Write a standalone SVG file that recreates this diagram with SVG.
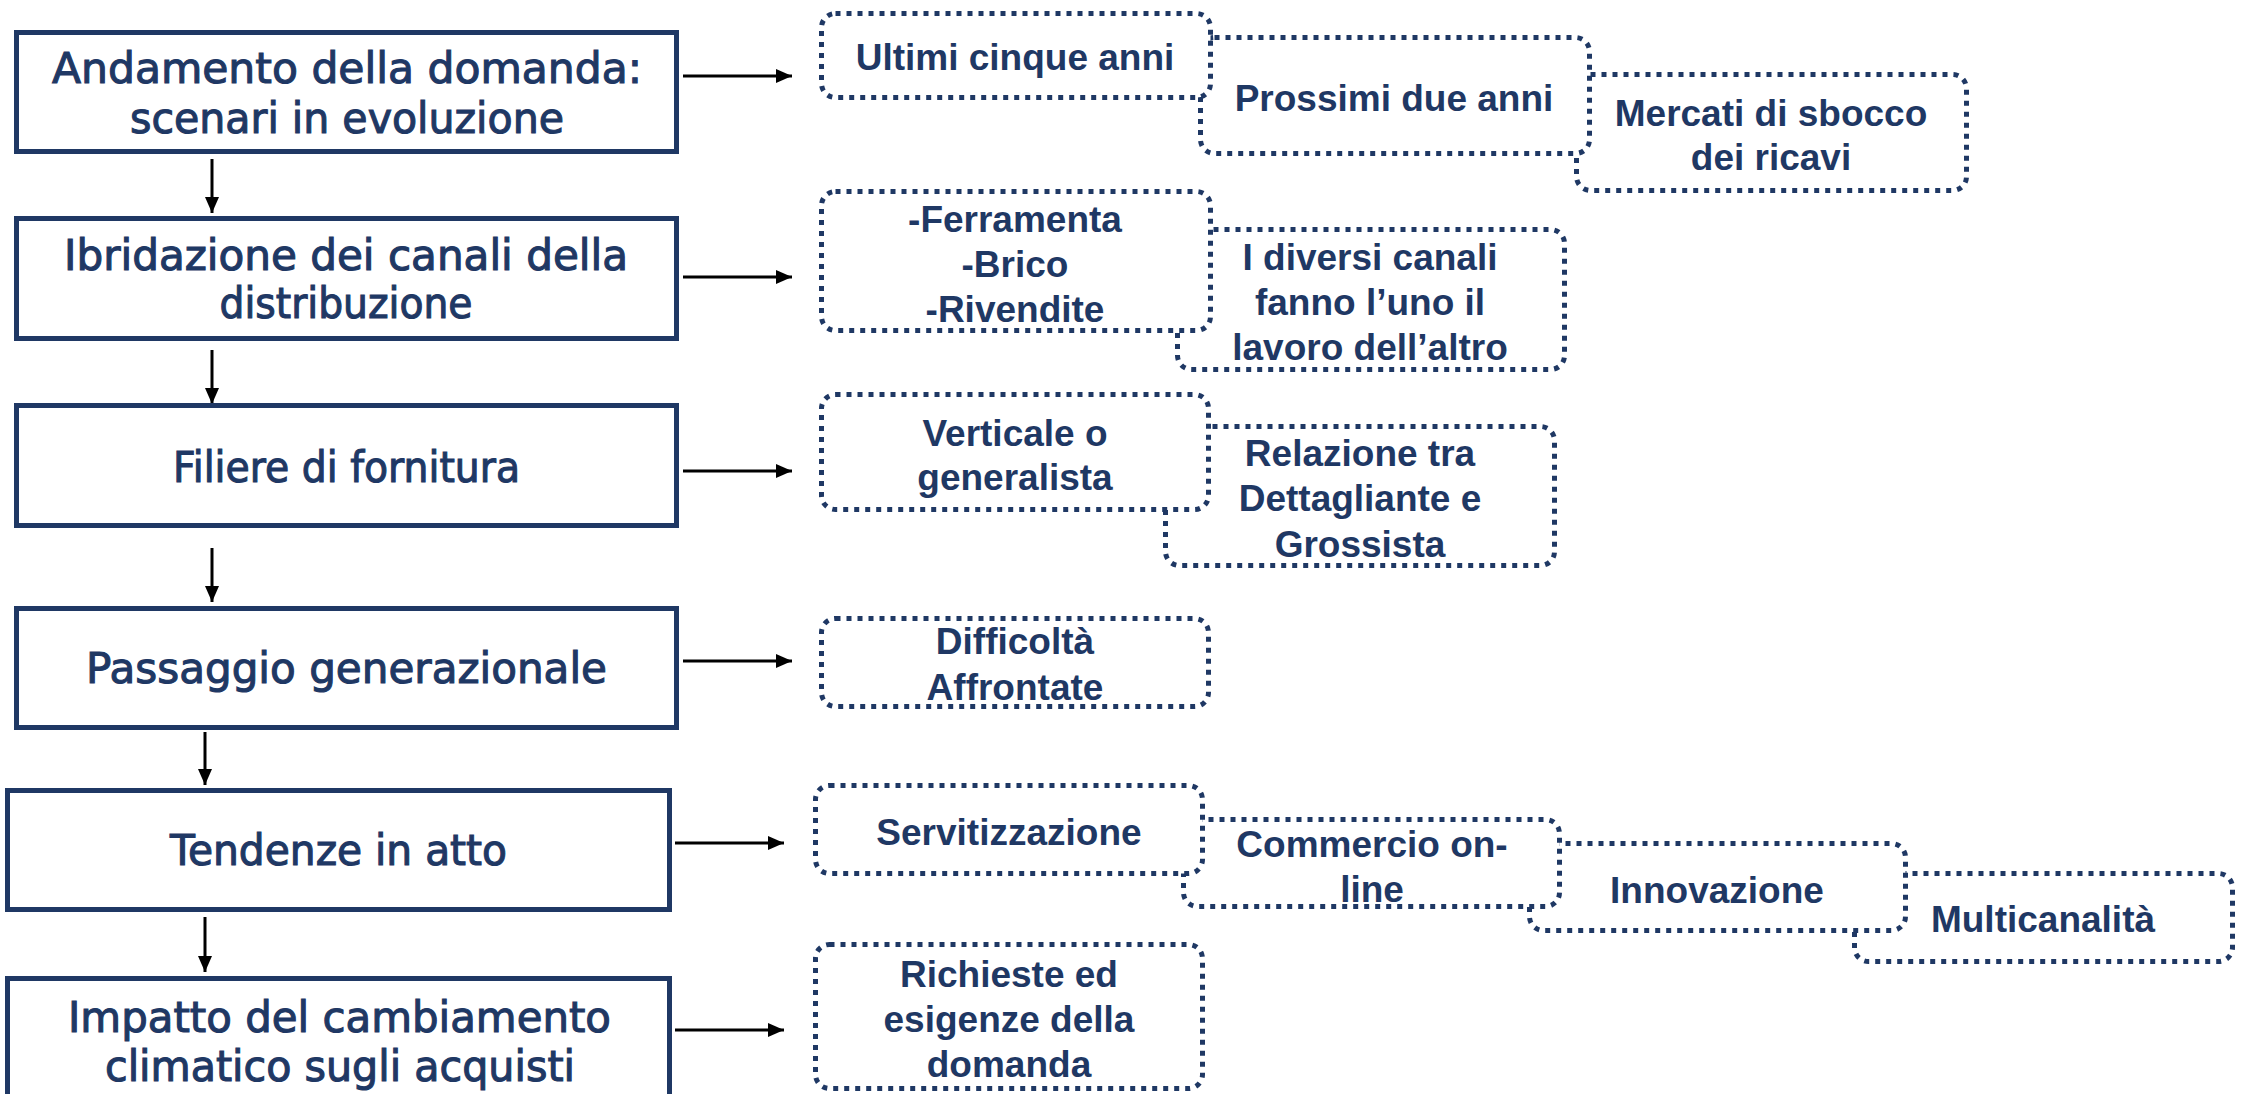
<svg xmlns="http://www.w3.org/2000/svg" width="2244" height="1094" viewBox="0 0 2244 1094">
<defs>
<style>
.main{fill:#fff;stroke:#1F3864;stroke-width:5}
.dot{fill:#fff;stroke:#1F3864;stroke-width:5;stroke-dasharray:5 6}
.lt{font-family:"DejaVu Sans",sans-serif;font-size:42px;fill:#1F3864;stroke:#1F3864;stroke-width:1.1;text-anchor:middle}
.rt{font-family:"Liberation Sans",Arial,sans-serif;font-weight:bold;font-size:37px;fill:#1F3864;text-anchor:middle}
.arr{stroke:#000;stroke-width:3;fill:none;marker-end:url(#ah)}
</style>
<marker id="ah" markerUnits="userSpaceOnUse" markerWidth="16" markerHeight="14" refX="16" refY="7" orient="auto">
<path d="M0,0 L16,7 L0,14 Z" fill="#000"/>
</marker>
</defs>
<rect width="2244" height="1094" fill="#fff"/>

<g id="connectors">
<line class="arr" x1="212" y1="159" x2="212" y2="213"/>
<line class="arr" x1="212" y1="350" x2="212" y2="404"/>
<line class="arr" x1="212" y1="548" x2="212" y2="602"/>
<line class="arr" x1="205" y1="732" x2="205" y2="785"/>
<line class="arr" x1="205" y1="917" x2="205" y2="972"/>
<line class="arr" x1="683" y1="76" x2="792" y2="76"/>
<line class="arr" x1="683" y1="277" x2="792" y2="277"/>
<line class="arr" x1="683" y1="471" x2="792" y2="471"/>
<line class="arr" x1="683" y1="661" x2="792" y2="661"/>
<line class="arr" x1="675" y1="843" x2="784" y2="843"/>
<line class="arr" x1="675" y1="1030" x2="784" y2="1030"/>
</g>

<g id="n1"><rect class="main" x="16.5" y="32.5" width="660" height="119"/>
<text class="lt" x="347" y="83" textLength="590" lengthAdjust="spacingAndGlyphs">Andamento della domanda:</text>
<text class="lt" x="347" y="133" textLength="434" lengthAdjust="spacingAndGlyphs">scenari in evoluzione</text></g>
<g id="n2"><rect class="main" x="16.5" y="218.5" width="660" height="120"/>
<text class="lt" x="346" y="270" textLength="564" lengthAdjust="spacingAndGlyphs">Ibridazione dei canali della</text>
<text class="lt" x="346" y="318" textLength="253" lengthAdjust="spacingAndGlyphs">distribuzione</text></g>
<g id="n3"><rect class="main" x="16.5" y="405.5" width="660" height="120"/>
<text class="lt" x="346.5" y="482" textLength="347" lengthAdjust="spacingAndGlyphs">Filiere di fornitura</text></g>
<g id="n4"><rect class="main" x="16.5" y="608.5" width="660" height="119"/>
<text class="lt" x="346.5" y="683" textLength="521" lengthAdjust="spacingAndGlyphs">Passaggio generazionale</text></g>
<g id="n5"><rect class="main" x="7.5" y="790.5" width="662" height="119"/>
<text class="lt" x="338.5" y="865" textLength="337" lengthAdjust="spacingAndGlyphs">Tendenze in atto</text></g>
<g id="n6"><rect class="main" x="7.5" y="978.5" width="662" height="140"/>
<text class="lt" x="339.5" y="1032" textLength="543" lengthAdjust="spacingAndGlyphs">Impatto del cambiamento</text>
<text class="lt" x="340" y="1081" textLength="470" lengthAdjust="spacingAndGlyphs">climatico sugli acquisti</text></g>

<g id="d3"><rect class="dot" x="1576.5" y="74.5" width="390" height="116" rx="14"/>
<text class="rt" x="1771" y="126">Mercati di sbocco</text>
<text class="rt" x="1771" y="170">dei ricavi</text></g>
<g id="d2"><rect class="dot" x="1200.5" y="37.5" width="389" height="116" rx="14"/>
<text class="rt" x="1394" y="111">Prossimi due anni</text></g>
<g id="d1"><rect class="dot" x="821.5" y="13.5" width="389" height="84" rx="14"/>
<text class="rt" x="1015" y="70">Ultimi cinque anni</text></g>

<g id="d5"><rect class="dot" x="1177.5" y="229.5" width="387" height="140" rx="14"/>
<text class="rt" x="1370" y="270">I diversi canali</text>
<text class="rt" x="1370" y="315">fanno l’uno il</text>
<text class="rt" x="1370" y="360">lavoro dell’altro</text></g>
<g id="d4"><rect class="dot" x="821.5" y="191.5" width="389" height="139" rx="14"/>
<text class="rt" x="1015" y="232">-Ferramenta</text>
<text class="rt" x="1015" y="277">-Brico</text>
<text class="rt" x="1015" y="322">-Rivendite</text></g>

<g id="d7"><rect class="dot" x="1165.5" y="426.5" width="389" height="139" rx="14"/>
<text class="rt" x="1360" y="466">Relazione tra</text>
<text class="rt" x="1360" y="511">Dettagliante e</text>
<text class="rt" x="1360" y="557">Grossista</text></g>
<g id="d6"><rect class="dot" x="821.5" y="394.5" width="387" height="115" rx="14"/>
<text class="rt" x="1015" y="446">Verticale o</text>
<text class="rt" x="1015" y="490">generalista</text></g>

<g id="d8"><rect class="dot" x="821.5" y="618.5" width="387" height="88" rx="14"/>
<text class="rt" x="1015" y="654">Difficoltà</text>
<text class="rt" x="1015" y="700">Affrontate</text></g>

<g id="d12"><rect class="dot" x="1854.5" y="873.5" width="378" height="88" rx="14"/>
<text class="rt" x="2043" y="932">Multicanalità</text></g>
<g id="d11"><rect class="dot" x="1529.5" y="843.5" width="376" height="87" rx="14"/>
<text class="rt" x="1717" y="903">Innovazione</text></g>
<g id="d10"><rect class="dot" x="1183.5" y="819.5" width="376" height="87" rx="14"/>
<text class="rt" x="1372" y="857">Commercio on-</text>
<text class="rt" x="1372" y="902">line</text></g>
<g id="d9"><rect class="dot" x="815.5" y="785.5" width="387" height="88" rx="14"/>
<text class="rt" x="1009" y="845">Servitizzazione</text></g>

<g id="d13"><rect class="dot" x="815.5" y="944.5" width="387" height="144" rx="14"/>
<text class="rt" x="1009" y="987">Richieste ed</text>
<text class="rt" x="1009" y="1032">esigenze della</text>
<text class="rt" x="1009" y="1077">domanda</text></g>
</svg>
